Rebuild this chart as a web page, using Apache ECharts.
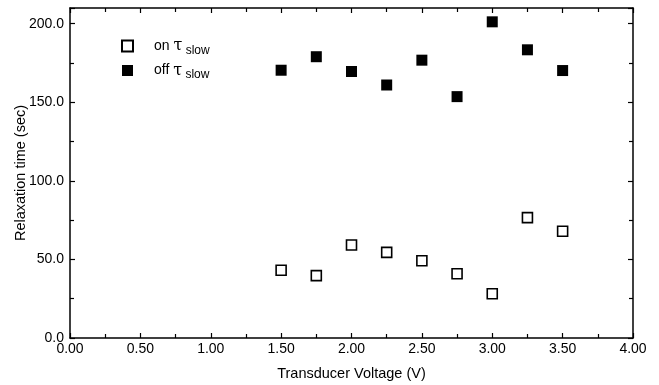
<!DOCTYPE html>
<html><head><meta charset="utf-8">
<script src="https://cdn.jsdelivr.net/npm/echarts@6/dist/echarts.min.js"></script>
<style>html,body{margin:0;padding:0;background:#fff}#c{width:659px;height:385px}</style>
</head><body><div id="c"></div>
<script>
var voltage = [1.5, 1.75, 2.0, 2.25, 2.5, 2.75, 3.0, 3.25, 3.5];
var onSlow  = [43.1, 39.7, 59.2, 54.5, 49.2, 40.9, 28.2, 76.6, 67.9];
var offSlow = [170.4, 179.0, 169.6, 161.0, 176.8, 153.6, 201.2, 183.4, 170.2];
var xTicks = [0, 0.5, 1, 1.5, 2, 2.5, 3, 3.5, 4];
var yTicks = [0, 50, 100, 150, 200];

function pairs(xs, ys){ return xs.map(function(x,i){ return [x, ys[i]]; }); }
var font = 'Liberation Sans, Arial, sans-serif';
var axisCommon = function(){
  return {
    axisLine: {show: true, onZero: false, lineStyle: {color: '#000', width: 1.5}},
    axisTick: {show: true, inside: true, length: 5, lineStyle: {color: '#000', width: 1.2}},
    minorTick: {show: true, splitNumber: 2, length: 4, lineStyle: {color: '#000', width: 1.2}},
    splitLine: {show: false}
  };
};
var chart = echarts.init(document.getElementById('c'));
var xb = Object.assign(axisCommon(), {
  type: 'value', min: xTicks[0], max: xTicks[xTicks.length-1], interval: 0.5, position: 'bottom',
  name: 'Transducer Voltage (V)', nameLocation: 'middle', nameGap: 28, nameMoveOverlap: false,
  nameTextStyle: {fontFamily: font, fontSize: 14.5, color: '#000'},
  axisLabel: {fontFamily: font, fontSize: 14, color: '#000', margin: 4, hideOverlap: false,
    formatter: function(v){ return v.toFixed(2); }}
});
var xt = Object.assign(axisCommon(), {
  type: 'value', min: xTicks[0], max: xTicks[xTicks.length-1], interval: 0.5, position: 'top',
  axisLabel: {show: false}
});
var yl = Object.assign(axisCommon(), {
  type: 'value', min: 0, max: 210, interval: 50, position: 'left',
  name: 'Relaxation time (sec)', nameLocation: 'middle', nameGap: 42, nameMoveOverlap: false,
  nameTextStyle: {fontFamily: font, fontSize: 14.5, color: '#000'},
  axisLabel: {fontFamily: font, fontSize: 14, color: '#000', margin: 6, hideOverlap: false,
    showMaxLabel: false,
    formatter: function(v){ return v.toFixed(1); }}
});
var yr = Object.assign(axisCommon(), {
  type: 'value', min: 0, max: 210, interval: 50, position: 'right',
  axisLabel: {show: false}
});
chart.setOption({
  animation: false,
  grid: {left: 70, right: 26, top: 8, bottom: 47, containLabel: false, outerBoundsMode: 'none'},
  xAxis: [xb, xt],
  yAxis: [yl, yr],
  legend: {
    orient: 'vertical', left: 116, top: 33, itemGap: 6,
    icon: 'rect', itemWidth: 11, itemHeight: 11,
    data: ['on', 'off'],
    formatter: function(n){ return '{a|' + n + ' }{t|τ}{s| slow}'; },
    textStyle: {
      fontFamily: font, color: '#000', padding: [0,0,0,16],
      rich: {
        a: {fontFamily: font, fontSize: 14, color: '#000'},
        t: {fontFamily: 'DejaVu Serif, serif', fontSize: 16, color: '#000'},
        s: {fontFamily: font, fontSize: 12, color: '#000', padding: [9,0,0,0]}
      }
    }
  },
  series: [
    {name: 'on', type: 'scatter', xAxisIndex: 0, yAxisIndex: 0, symbol: 'rect', symbolSize: 10,
     itemStyle: {color: '#fff', borderColor: '#000', borderWidth: 1.6, opacity: 1},
     data: pairs(voltage, onSlow)},
    {name: 'off', type: 'scatter', xAxisIndex: 0, yAxisIndex: 0, symbol: 'rect', symbolSize: 11,
     itemStyle: {color: '#000', borderColor: '#000', borderWidth: 0, opacity: 1},
     data: pairs(voltage, offSlow)}
  ]
});
</script></body></html>
